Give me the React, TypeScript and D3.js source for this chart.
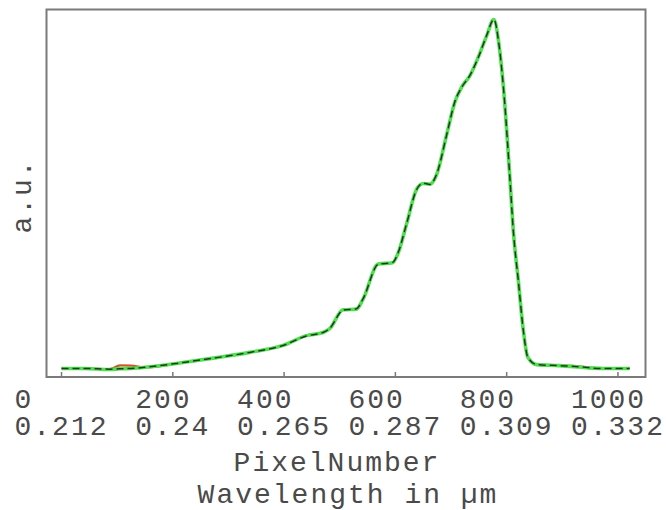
import React, { useRef, useEffect } from "react";
import * as d3 from "d3";

// pixel positions along the detector
const pixels = [0, 40, 87, 105, 125, 154, 218, 279, 338, 398, 440, 470, 482, 506, 530, 542, 569, 595, 605, 620, 638, 650, 662, 674, 692, 707, 719, 734, 749, 764, 777, 786, 795, 806, 812, 821, 830, 838, 854, 895, 930, 955, 975, 1021];

// fitted spectrum (green) and model (dashed)
const fitValues = [0.0, 0.0, -0.003, -0.001, 0.0, 0.004, 0.017, 0.031, 0.046, 0.066, 0.094, 0.103, 0.114, 0.168, 0.17, 0.199, 0.299, 0.303, 0.331, 0.413, 0.513, 0.53, 0.528, 0.555, 0.669, 0.764, 0.806, 0.839, 0.892, 0.953, 1.0, 0.93, 0.79, 0.54, 0.393, 0.251, 0.108, 0.032, 0.011, 0.008, 0.004, 0.001, 0.0, 0.0];
const modelValues = [0.0, 0.0, -0.002, -0.001, 0.0, 0.004, 0.017, 0.031, 0.046, 0.066, 0.093, 0.103, 0.115, 0.167, 0.171, 0.2, 0.298, 0.304, 0.332, 0.414, 0.512, 0.531, 0.527, 0.556, 0.668, 0.765, 0.805, 0.84, 0.891, 0.954, 1.0, 0.93, 0.79, 0.54, 0.393, 0.251, 0.108, 0.032, 0.011, 0.008, 0.005, 0.001, 0.0, 0.0];
// measured (red), mostly hidden under the others
const measuredValues = [0.0, 0.0, -0.002, 0.009, 0.008, 0.003, 0.017, 0.031, 0.046, 0.066, 0.094, 0.103, 0.114, 0.168, 0.17, 0.199, 0.299, 0.303, 0.331, 0.413, 0.513, 0.53, 0.528, 0.555, 0.669, 0.764, 0.806, 0.839, 0.892, 0.953, 1.0, 0.93, 0.79, 0.54, 0.393, 0.251, 0.108, 0.032, 0.011, 0.009, 0.006, 0.002, 0.001, 0.0];

const tickPixels = [0, 200, 400, 600, 800, 1000];
const tickWavelengths = ["0.212", "0.24", "0.265", "0.287", "0.309", "0.332"];

const App: React.FC = () => {
    const svgRef = useRef<SVGSVGElement | null>(null);

    useEffect(() => {
        if (!svgRef.current) return;

        const width = 666;
        const height = 510;
        const frame = { left: 46.5, top: 9.5, right: 645.5, bottom: 377 };
        const font = "Liberation Mono, DejaVu Sans Mono, monospace";
        const fontSize = 28;
        const spacing = 2; // stretch the mono glyphs to the reference's ~18.8px pitch
        const charW = fontSize * 0.6 + spacing;

        const x = d3.scaleLinear().domain([-27, 1049.5]).range([frame.left, frame.right]);
        const y = d3.scaleLinear().domain([-0.0245, 1.0285]).range([frame.bottom, frame.top]);

        const svg = d3.select(svgRef.current)
            .attr("width", width)
            .attr("height", height)
            .attr("viewBox", `0 0 ${width} ${height}`)
            .style("position", "absolute")
            .style("left", "0px")
            .style("top", "0px")
            .style("background", "#fff");

        svg.selectAll("*").remove();

        const line = (vals: number[]) => d3.line<number>()
            .x((d, i) => x(pixels[i]))
            .y(d => y(d))
            .curve(d3.curveMonotoneX)(vals);

        svg.append("path")
            .attr("d", line(measuredValues))
            .attr("fill", "none")
            .attr("stroke", "#d0552a")
            .attr("stroke-width", 2.2);

        svg.append("path")
            .attr("d", line(fitValues))
            .attr("fill", "none")
            .attr("stroke", "#4ee04e")
            .attr("stroke-width", 3.6);

        svg.append("path")
            .attr("d", line(modelValues))
            .attr("fill", "none")
            .attr("stroke", "#263626")
            .attr("stroke-width", 1.5)
            .attr("stroke-dasharray", "7,4");

        // frame
        svg.append("rect")
            .attr("x", frame.left)
            .attr("y", frame.top)
            .attr("width", frame.right - frame.left)
            .attr("height", frame.bottom - frame.top)
            .attr("fill", "none")
            .attr("stroke", "#7a7a7a")
            .attr("stroke-width", 2);

        // ticks
        svg.append("g")
            .selectAll("line")
            .data(tickPixels)
            .join("line")
            .attr("x1", d => x(d))
            .attr("x2", d => x(d))
            .attr("y1", frame.bottom)
            .attr("y2", frame.bottom - 5)
            .attr("stroke", "#7a7a7a")
            .attr("stroke-width", 1.5);

        // two-row tick labels, left aligned inside a block centred on the tick
        const labels = svg.append("g")
            .style("font-family", font)
            .style("font-size", `${fontSize}px`)
            .style("letter-spacing", `${spacing}px`)
            .attr("fill", "#4a4a4a");

        tickPixels.forEach((p, i) => {
            const rows = [String(p), tickWavelengths[i]];
            const blockW = d3.max(rows, r => r.length)! * charW;
            const left = x(p) - blockW / 2;
            rows.forEach((r, j) => {
                labels.append("text")
                    .attr("x", left)
                    .attr("y", 408 + j * 27)
                    .text(r);
            });
        });

        labels.append("text")
            .attr("x", 337)
            .attr("y", 471)
            .attr("text-anchor", "middle")
            .text("PixelNumber");

        labels.append("text")
            .attr("x", 348)
            .attr("y", 503)
            .attr("text-anchor", "middle")
            .text("Wavelength in µm");

        labels.append("text")
            .attr("transform", "translate(31,196) rotate(-90)")
            .attr("text-anchor", "middle")
            .text("a.u.");
    }, []);

    return <svg ref={svgRef} />;
};

export default App;
